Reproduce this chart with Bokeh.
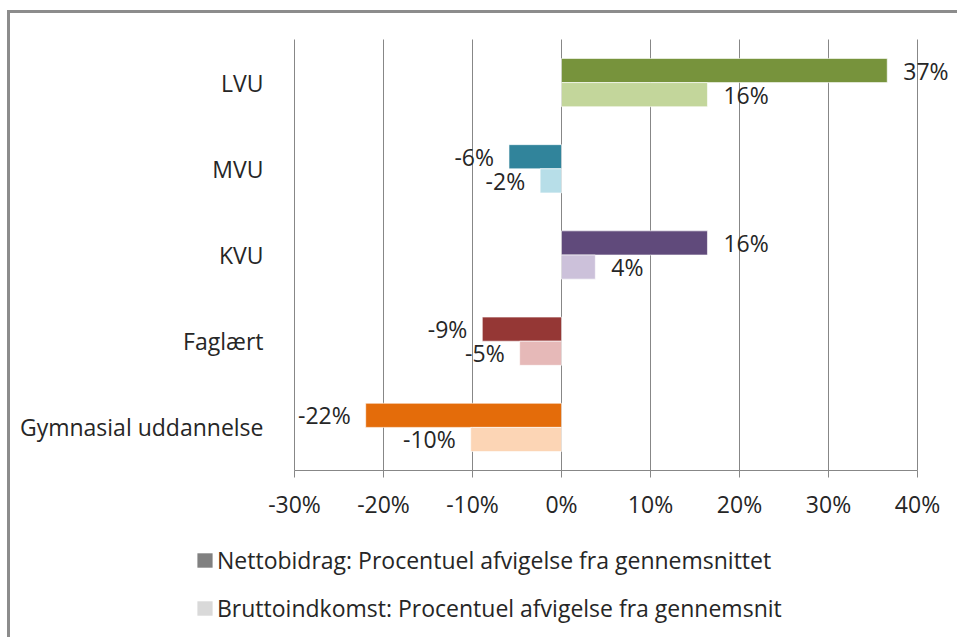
import numpy as np
from bokeh.plotting import figure
from bokeh.layouts import column
from bokeh.models import (ColumnDataSource, Range1d, FixedTicker,
                          PrintfTickFormatter, Legend, LegendItem)
from bokeh.core.properties import value
from bokeh.embed import file_html
from bokeh.resources import INLINE

# ---- data ----
categories = ["LVU", "MVU", "KVU", "Faglært", "Gymnasial uddannelse"]
netto = [36.6, -5.9, 16.4, -8.9, -22.0]
brutto = [16.4, -2.4, 3.8, -4.7, -10.2]
netto_colors = ["#77933C", "#31849B", "#604A7B", "#953735", "#E46C0A"]
brutto_colors = ["#C3D69B", "#B7DEE8", "#CCC1DA", "#E6B9B8", "#FCD5B5"]
x_ticks = [-30, -20, -10, 0, 10, 20, 30, 40]
series_names = ["Nettobidrag: Procentuel afvigelse fra gennemsnittet",
                "Bruttoindkomst: Procentuel afvigelse fra gennemsnit"]
legend_colors = ["#808080", "#D9D9D9"]

FONT = "Open Sans"
FS = "23px"
TXT = "#262626"
GRID = "#878787"
LINE = "#8c8c8c"

W, Hpx = 957, 637
FRAME_L, FRAME_R, FRAME_T, FRAME_B = 294, 917, 39, 470   # plot-area pixels
n = len(categories)
ypos = list(range(n - 1, -1, -1))          # LVU on top
xs_per_px = (x_ticks[-1] - x_ticks[0]) / (FRAME_R - FRAME_L)
ys_per_px = n / (FRAME_B - FRAME_T)
x_start = x_ticks[0] - FRAME_L * xs_per_px
x_end = x_ticks[-1] + (W - FRAME_R) * xs_per_px
y_end = (n - 0.5) + FRAME_T * ys_per_px
y_start = -0.5 - (Hpx - FRAME_B) * ys_per_px

p = figure(width=W, height=Hpx,
           x_range=Range1d(x_start, x_end), y_range=Range1d(y_start, y_end),
           output_backend="svg", toolbar_location=None,
           min_border_left=0, min_border_right=0,
           min_border_top=0, min_border_bottom=0)
p.outline_line_color = None
p.background_fill_color = None
p.border_fill_color = None
p.grid.grid_line_color = None

# x axis drawn at the bottom of the category bands
p.xaxis.fixed_location = -0.5
p.xaxis.ticker = FixedTicker(ticks=x_ticks)
p.xaxis.bounds = (x_ticks[0], x_ticks[-1])
p.xaxis.formatter = PrintfTickFormatter(format="%d%%")
p.xaxis.axis_line_color = GRID
p.xaxis.major_tick_line_color = GRID
p.xaxis.major_tick_out = 7
p.xaxis.major_tick_in = 0
p.xaxis.minor_tick_line_color = None
p.xaxis.major_label_standoff = 10
p.xaxis.major_label_text_font = FONT
p.xaxis.major_label_text_font_size = FS
p.xaxis.major_label_text_color = TXT

# category axis drawn at the left edge of the value scale
p.yaxis.fixed_location = x_ticks[0]
p.yaxis.ticker = FixedTicker(ticks=ypos)
p.yaxis.major_label_overrides = {y: c for y, c in zip(ypos, categories)}
p.yaxis.axis_line_color = None
p.yaxis.major_tick_line_color = None
p.yaxis.minor_tick_line_color = None
p.yaxis.major_label_standoff = 25
p.yaxis.major_label_text_font = FONT
p.yaxis.major_label_text_font_size = FS
p.yaxis.major_label_text_color = TXT

# vertical grid lines at the value ticks, spanning the category bands
p.segment(x0=x_ticks, x1=x_ticks, y0=[-0.5] * len(x_ticks), y1=[n - 0.5] * len(x_ticks),
          line_color=GRID, line_width=1)

OFF = 0.14
BH = 0.28

legend_renderers = []
for vals, cols, off, lcol in [(netto, netto_colors, OFF, legend_colors[0]),
                              (brutto, brutto_colors, -OFF, legend_colors[1])]:
    yy = [y + off for y in ypos]
    src = ColumnDataSource(dict(y=yy, val=vals, color=cols))
    p.hbar(y="y", left=0, right="val", height=BH,
           fill_color="color", line_color="white", line_alpha=0.6, line_width=1,
           source=src)
    # hidden twin in the legend colour
    r = p.hbar(y="y", left=0, right="val", height=BH, fill_color=lcol,
               line_color=None, source=src, visible=False)
    legend_renderers.append(r)
    arr = np.array(vals)
    yarr = np.array(yy)
    labels = np.array([f"{int(round(v))}%" for v in vals], dtype=object)
    pos = arr >= 0
    neg = ~pos
    for mask, xo, align in [(pos, 16, "left"), (neg, -15, "right")]:
        s = ColumnDataSource(dict(y=list(yarr[mask]), val=list(arr[mask]),
                                  lbl=list(labels[mask])))
        p.text(x="val", y="y", text="lbl", source=s,
               x_offset=xo, text_align=align, text_baseline="middle",
               text_font=value(FONT), text_font_size=FS, text_color=TXT)

items = [LegendItem(label=nm, renderers=[r]) for nm, r in zip(series_names, legend_renderers)]
legend = Legend(items=items, location=(195, 13), orientation="vertical",
                glyph_width=19, glyph_height=18, label_standoff=3, spacing=16,
                padding=0, margin=0, border_line_color=None,
                background_fill_alpha=0, inactive_fill_alpha=0,
                label_text_font=FONT, label_text_font_size=FS,
                label_text_color=TXT, label_height=32)
p.add_layout(legend)

layout = column(p, spacing=0)
layout.styles = {
    "background": (f"linear-gradient({LINE},{LINE}) 7px 10px / 3px 100% no-repeat, "
                   f"linear-gradient({LINE},{LINE}) 7px 10px / 100% 3px no-repeat, white"),
}

open("out.html", "w").write(file_html(layout, INLINE))
